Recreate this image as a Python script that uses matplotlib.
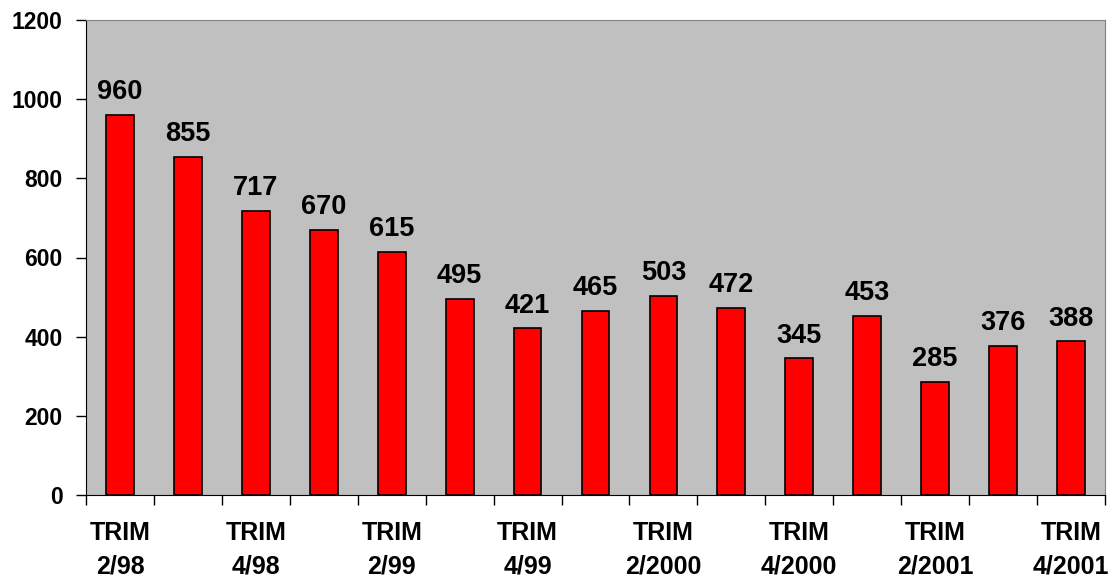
import numpy as np
import matplotlib
matplotlib.use("Agg")
from matplotlib import pyplot as plt

quarters = ["2/98", "3/98", "4/98", "1/99", "2/99", "3/99", "4/99",
            "1/2000", "2/2000", "3/2000", "4/2000", "1/2001", "2/2001",
            "3/2001", "4/2001"]
values = [960, 855, 717, 670, 615, 495, 421, 465, 503, 472, 345, 453,
          285, 376, 388]
yticks = [0, 200, 400, 600, 800, 1000, 1200]

plt.rcParams['font.family'] = ['Liberation Sans', 'DejaVu Sans']
plt.rcParams['font.weight'] = 'bold'

fig = plt.figure(figsize=(11.16, 5.79), dpi=100)
ax = fig.add_axes([86/1116, 1 - 495/579, (1105-86)/1116, (495-20)/579])
ax.set_facecolor("#c0c0c0")

x = np.arange(len(values))
bars = ax.bar(x, values, width=0.41, color="#ff0000", edgecolor="black",
              linewidth=1.2, zorder=3)
for xi, v in zip(x, values):
    ax.annotate(str(v), (xi, v), xytext=(0, 7), textcoords="offset points",
                ha="center", va="bottom", fontsize=19.5, fontweight="bold")

ax.set_xlim(-0.5, len(values) - 0.5)
ax.set_ylim(0, 1200)
ax.set_yticks(yticks)
ax.set_yticklabels([str(t) for t in yticks], fontsize=16.5, fontweight="bold")

# category boundaries as major ticks, labels every other category
ax.set_xticks(np.arange(len(values) + 1) - 0.5)
ax.set_xticklabels([])
ax.set_xticks(x[::2], minor=True)
ax.set_xticklabels(["TRIM\n" + q for q in quarters[::2]], minor=True,
                   fontsize=18, fontweight="bold", linespacing=1.5)
ax.tick_params(axis="x", which="major", direction="out", length=7, width=1)
ax.tick_params(axis="x", which="minor", length=0, pad=19)
ax.tick_params(axis="y", direction="out", length=7, width=1, pad=10)

for side in ["top", "right"]:
    ax.spines[side].set_color("#808080")
ax.spines["left"].set_color("black")
ax.spines["bottom"].set_color("black")

plt.savefig("out.png", dpi=100)
